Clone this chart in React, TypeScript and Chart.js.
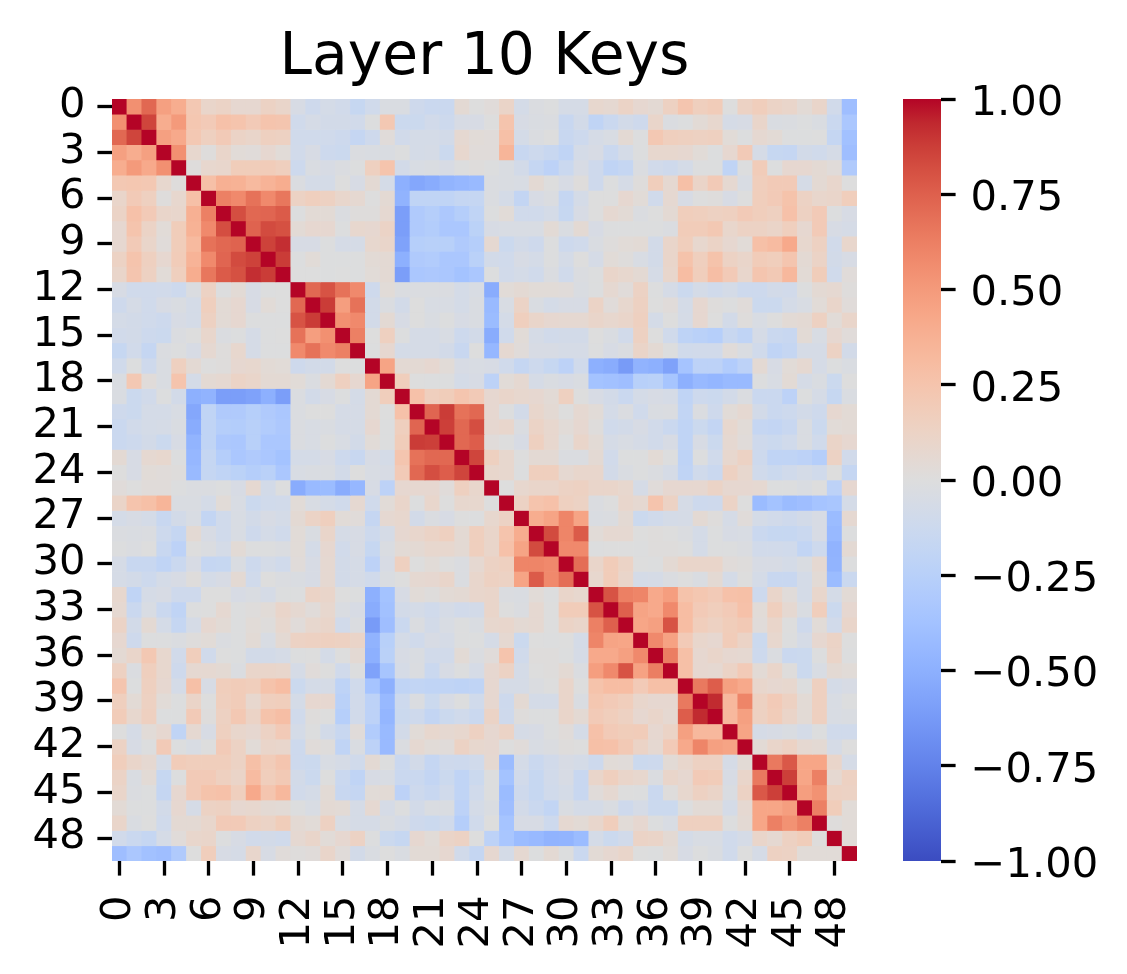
import React, { useEffect, useRef } from "react";
import { Chart, registerables } from "chart.js";

Chart.register(...registerables);

const FONT = "'DejaVu Sans'";
const TITLE = "Layer 10 Keys";
const tickValues = [0, 3, 6, 9, 12, 15, 18, 21, 24, 27, 30, 33, 36, 39, 42, 45, 48];
const colorbarTicks = [-1, -0.75, -0.5, -0.25, 0, 0.25, 0.5, 0.75, 1];
const indices = Array.from({ length: 50 }, (_, i) => i);

// Upper triangle of the correlation matrix, in hundredths; each row starts on the diagonal.
const r0 = [100,55,72,47,40,22,10,12,7,7,13,10,-5,-11,-7,-9,-16,-10,-3,-3,-11,-14,-14,5,0,2,11,-7,-2,-1,-6,-6,8,6,12,7,5,14,24,16,19,0,13,17,12,10,4,10,-9,-40];
const r1 = [100,85,40,50,23,20,27,25,20,25,24,-10,-6,-8,-8,-9,-1,22,-13,-13,-9,-12,-5,-5,0,25,-5,-3,-2,-15,-8,-20,-14,-8,-11,10,-2,-1,4,8,-6,-5,10,-3,-2,-1,-3,-14,-33];
const r2 = [100,47,42,22,15,20,12,10,15,14,-10,-10,-10,-12,-17,-11,2,-9,-7,-7,-8,6,3,2,28,-7,-2,0,-15,-12,-6,-4,5,-1,22,16,15,14,15,3,-1,6,4,-1,-1,0,-17,-38];
const r3 = [100,55,8,1,10,3,2,7,3,-9,-5,-12,-13,-2,-3,-3,-1,-7,-6,-13,8,2,2,35,-15,-12,-15,-20,-7,-5,-14,-7,-1,8,8,7,3,-1,7,20,-6,-16,-17,-8,-10,-6,-40];
const r4 = [100,1,8,9,18,18,19,16,-12,-3,-5,-2,-1,15,25,-8,-4,-3,-5,-1,1,-1,-3,-8,-17,-22,-14,-5,-11,-20,-17,-2,-9,-11,-7,-1,-1,-20,-1,19,-1,7,7,5,2,-30];
const r5 = [100,28,38,37,32,36,40,-2,-7,-7,0,-5,5,-7,-50,-55,-52,-47,-45,-43,-2,-3,-4,5,0,-5,1,-11,-1,-6,1,17,6,28,11,20,6,-4,17,20,20,-6,5,9,0];
const r6 = [100,62,58,68,58,66,13,16,14,9,6,0,5,-48,-20,-20,-20,-17,-17,-2,-7,-18,-5,-2,-17,-7,0,0,7,3,-10,6,-5,0,1,-5,0,17,20,26,13,9,10,17];
const r7 = [100,82,72,73,77,-1,4,4,-2,1,1,6,-60,-30,-27,-32,-27,-20,-1,3,-10,-10,-7,-16,-5,0,6,4,-2,0,5,17,16,14,15,20,17,15,27,14,20,-1,-5];
const r8 = [100,74,83,81,4,7,7,-1,8,7,12,-60,-30,-28,-33,-33,-23,-5,-4,-4,-4,4,-3,5,-5,-1,-1,-1,-1,-2,19,19,22,9,13,13,11,16,7,20,-5,-6];
const r9 = [100,86,92,-5,-5,-1,-6,-6,8,10,-58,-26,-25,-25,-30,-27,6,-13,-8,-11,-1,-12,-10,-3,1,3,4,-8,10,17,8,12,7,3,28,31,42,8,14,-9,9];
const r10 = [100,88,-1,3,-1,-1,-1,4,5,-50,-30,-29,-33,-33,-24,-8,-10,-5,-7,-1,-7,0,-6,3,1,-4,-8,10,26,16,26,13,10,19,17,24,5,12,-8,-5];
const r11 = [100,0,0,-1,0,-1,3,5,-60,-33,-32,-33,-37,-33,-1,-9,-7,-10,-2,-10,-2,-1,10,8,5,-6,9,30,17,29,20,9,24,21,33,4,18,-10,2];
const r12 = [100,72,80,68,58,-11,3,-2,-2,-2,-2,-7,-4,-52,3,5,3,3,2,-3,-1,6,2,13,-1,-6,-13,-7,-10,-7,-12,-12,-8,-9,-1,5,6,1];
const r13 = [100,88,48,68,-8,-2,-8,0,-4,-4,-7,-3,-43,-4,12,-3,-7,-5,-5,12,2,8,14,0,2,-7,7,1,-1,2,-13,-13,-7,-4,3,10,2];
const r14 = [100,55,58,-8,5,-5,0,-3,-1,-5,-3,-42,-7,16,10,7,6,6,10,8,10,15,-7,0,-6,7,0,-8,1,-4,0,4,5,14,3,10];
const r15 = [100,62,0,15,-1,-6,-6,-4,-12,-8,-52,-10,3,-6,-9,-8,-8,0,-3,-9,14,0,-10,-21,-24,-26,-15,-20,-6,-14,-15,4,-4,7,2];
const r16 = [100,-1,7,-7,-6,-6,-8,-15,0,-45,6,2,-5,-5,-6,-6,-1,-5,-2,11,5,-1,-10,-9,-9,2,-3,-10,-20,-17,-6,-6,13,-8];
const r17 = [100,45,5,5,7,3,-5,-4,-5,-10,-17,-12,-16,-22,-10,-50,-52,-62,-48,-50,-58,-36,-22,-22,-29,-22,5,-5,3,6,-6,-1,-3];
const r18 = [100,17,0,-1,-1,-7,-5,-22,3,6,-6,-3,-5,-3,-37,-38,-40,-25,-24,-35,-50,-44,-46,-43,-43,-1,-4,4,-6,-3,-13,0];
const r19 = [100,27,16,18,24,20,7,10,8,7,4,15,0,-5,-8,-14,-7,-5,-6,-20,-12,-13,-8,-2,-14,-14,-22,-1,-6,-16,-3];
const r20 = [100,73,88,68,72,7,-1,-8,9,5,0,6,3,-7,-2,-10,-3,-2,-19,-2,-11,3,6,-8,-14,-12,-8,-11,7,4];
const r21 = [100,87,72,82,7,9,-2,12,8,3,7,1,-10,-8,-5,-9,-14,-20,-13,-18,8,3,-17,-18,-15,-3,-13,3,4];
const r22 = [100,72,76,2,0,-5,15,8,0,10,4,-6,-4,-6,-9,-5,-20,-5,-13,6,2,-11,-13,-10,-3,-10,11,7];
const r23 = [100,85,15,8,0,5,5,-2,-2,5,-9,-1,-1,4,-1,-21,-1,-10,8,13,-12,-20,-20,-22,-27,13,-9];
const r24 = [100,9,8,-1,16,16,6,9,9,-8,-3,-1,-2,-6,-20,-10,-14,14,8,-10,-13,-10,-7,-10,0,-17];
const r25 = [100,0,8,10,10,13,14,10,10,8,-6,2,7,7,7,12,7,7,6,-1,-1,-3,0,-22,7];
const r26 = [100,13,25,27,15,13,-2,0,9,6,25,13,-6,-12,-11,12,0,-42,-37,-42,-40,-36,-34,-7];
const r27 = [100,40,45,60,45,-3,-2,5,-13,-10,-7,-6,5,1,-6,2,-7,-9,-11,-8,-5,-42,6];
const r28 = [100,83,60,77,3,6,6,0,1,0,-2,-7,-1,-5,-4,-14,-16,-16,-14,-5,-44,-1];
const r29 = [100,58,58,-1,0,0,-1,1,1,0,-7,-1,-1,-2,-9,-9,-10,-19,-12,-48,5];
const r30 = [100,70,10,19,12,0,-1,5,10,10,10,2,1,-5,-5,-7,-3,6,-47,-1];
const r31 = [100,8,19,10,-7,-6,-2,0,-3,5,-7,0,-7,-15,-15,-7,4,-42,-14];
const r32 = [100,80,62,60,42,48,26,23,20,27,28,-12,10,2,-7,9,-7,4];
const r33 = [100,75,45,42,58,30,20,17,20,27,3,16,6,-3,17,-13,7];
const r34 = [100,44,47,80,30,17,14,18,21,2,10,0,-11,3,-9,10];
const r35 = [100,58,46,20,9,7,19,12,-13,8,-1,-6,7,12,0];
const r36 = [100,63,28,7,10,7,6,-12,-2,-14,-13,-1,11,-1];
const r37 = [100,28,7,6,12,20,4,10,1,-13,-4,5,3];
const r38 = [100,65,76,47,42,9,7,8,-1,15,-7,-5];
const r39 = [100,93,33,60,14,20,14,4,15,-4,-1];
const r40 = [100,33,47,14,19,11,4,15,-4,-3];
const r41 = [100,45,-6,-5,-3,-7,-1,-10,-10];
const r42 = [100,4,10,13,6,5,-6,0];
const r43 = [100,65,78,44,44,10,-6];
const r44 = [100,87,44,62,6,14];
const r45 = [100,48,54,14,13];
const r46 = [100,62,18,3];
const r47 = [100,1,3];
const r48 = [100,3];
const r49 = [100];

const upper = [r0,r1,r2,r3,r4,r5,r6,r7,r8,r9,r10,r11,r12,r13,r14,r15,r16,r17,r18,r19,r20,r21,r22,r23,r24,r25,r26,r27,r28,r29,r30,r31,r32,r33,r34,r35,r36,r37,r38,r39,r40,r41,r42,r43,r44,r45,r46,r47,r48,r49];

const cellValue = (row: number, col: number) => {
  const a = Math.min(row, col);
  const b = Math.max(row, col);
  return (upper[a][b - a] ?? 0) / 100;
};

const coolwarm = [
  [59,76,192],[68,90,204],[77,104,215],[87,117,225],[98,130,234],[108,142,241],[119,154,247],[130,165,251],
  [141,176,254],[152,185,255],[163,194,255],[174,201,253],[184,208,249],[194,213,244],[204,217,238],[213,219,230],
  [221,221,221],[229,216,209],[236,211,197],[241,204,185],[245,196,173],[247,187,160],[247,177,148],[247,166,135],
  [244,154,123],[241,141,111],[236,127,99],[229,112,88],[222,96,77],[213,80,66],[203,62,56],[192,40,47],[180,4,38],
];

const colorFor = (v: number) => {
  const t = Math.max(0, Math.min(1, (v + 1) / 2)) * (coolwarm.length - 1);
  const i = Math.min(coolwarm.length - 2, Math.floor(t));
  const f = t - i;
  const c = coolwarm[i].map((x, k) => Math.round(x + (coolwarm[i + 1][k] - x) * f));
  return `rgb(${c[0]},${c[1]},${c[2]})`;
};

const PLOT = { left: 112, right: 857, top: 99, bottom: 861 };
const BAR = { left: 903, right: 941 };
const H = 974;
const MAIN_W = 969;
const CB_X = 880;
const CB_W = 247;
const TICK_LEN = 14.6;
const TICK_W = 3.3;
const TICK_SIZE = 41.67;

export default function App() {
  const mainRef = useRef<HTMLCanvasElement>(null);
  const barRef = useRef<HTMLCanvasElement>(null);

  useEffect(() => {
    const tickGrid = {
      display: true,
      drawOnChartArea: false,
      drawTicks: true,
      tickLength: TICK_LEN,
      tickWidth: TICK_W,
      tickColor: "#000",
      offset: false,
    };
    const setTicks = (list: number[]) => (scale: any) => {
      scale.ticks = list.map((value) => ({ value }));
    };

    const main = new Chart(mainRef.current!, {
      type: "bar",
      data: {
        datasets: indices.map((row) => ({
          label: `row ${row}`,
          data: indices.map((col) => ({ x: col, y: [row - 0.5, row + 0.5], v: cellValue(row, col) })),
          backgroundColor: (ctx: any) => colorFor(ctx.raw ? ctx.raw.v : 0),
          borderWidth: 0,
          grouped: false,
          barPercentage: 1,
          categoryPercentage: 1,
        })),
      } as any,
      options: {
        responsive: false,
        animation: false,
        devicePixelRatio: 1,
        layout: { padding: 0 },
        plugins: {
          legend: { display: false },
          tooltip: { enabled: false },
          title: {
            display: true,
            text: TITLE,
            color: "#000",
            font: { family: FONT, size: 58.3, weight: "normal", lineHeight: 1.2 },
            padding: { top: 24, bottom: 5 },
          },
        },
        scales: {
          x: {
            type: "linear",
            min: -0.5,
            max: 49.5,
            offset: false,
            afterBuildTicks: setTicks(tickValues),
            afterFit: (s: any) => { s.height = H - PLOT.bottom; },
            grid: tickGrid,
            border: { display: false },
            ticks: {
              autoSkip: false,
              minRotation: 90,
              maxRotation: 90,
              color: "#000",
              padding: 20,
              font: { family: FONT, size: TICK_SIZE },
            },
          },
          y: {
            type: "linear",
            reverse: true,
            min: -0.5,
            max: 49.5,
            afterBuildTicks: setTicks(tickValues),
            afterFit: (s: any) => { s.width = PLOT.left; },
            grid: tickGrid,
            border: { display: false },
            ticks: {
              autoSkip: false,
              color: "#000",
              padding: 12,
              labelOffset: -0.5,
              font: { family: FONT, size: TICK_SIZE },
            },
          },
          spacer: {
            type: "linear",
            position: "right",
            display: true,
            afterFit: (s: any) => { s.width = MAIN_W - PLOT.right; },
            grid: { display: false },
            border: { display: false },
            ticks: { display: false },
          },
        },
      } as any,
    });

    const bar = new Chart(barRef.current!, {
      type: "bar",
      data: {
        labels: ["scale"],
        datasets: [
          {
            data: [[colorbarTicks[0], colorbarTicks[colorbarTicks.length - 1]]],
            backgroundColor: (ctx: any) => {
              const area = ctx.chart.chartArea;
              if (!area) return "#ddd";
              const g = ctx.chart.ctx.createLinearGradient(0, area.bottom, 0, area.top);
              coolwarm.forEach((c, i) => g.addColorStop(i / (coolwarm.length - 1), `rgb(${c[0]},${c[1]},${c[2]})`));
              return g;
            },
            borderWidth: 0,
            barPercentage: 1,
            categoryPercentage: 1,
          },
        ],
      } as any,
      options: {
        responsive: false,
        animation: false,
        devicePixelRatio: 1,
        layout: { padding: { top: PLOT.top, bottom: H - PLOT.bottom, left: BAR.left - CB_X, right: 0 } },
        plugins: { legend: { display: false }, tooltip: { enabled: false }, title: { display: false } },
        scales: {
          x: { display: false },
          y: {
            position: "right",
            min: -1,
            max: 1,
            afterBuildTicks: setTicks(colorbarTicks),
            afterFit: (s: any) => { s.width = CB_X + CB_W - BAR.right; },
            grid: tickGrid,
            border: { display: false },
            ticks: {
              autoSkip: false,
              color: "#000",
              padding: 15,
              labelOffset: 5,
              font: { family: FONT, size: TICK_SIZE },
              callback: (v: number) => v.toFixed(2).replace("-", "\u2212"),
            },
          },
        },
      } as any,
    });

    return () => {
      main.destroy();
      bar.destroy();
    };
  }, []);

  return (
    <div style={{ position: "absolute", left: 0, top: 0, width: 1127, height: H, background: "#fff", overflow: "hidden" }}>
      <canvas ref={mainRef} width={MAIN_W} height={H} style={{ position: "absolute", left: 0, top: 0 }} />
      <canvas ref={barRef} width={CB_W} height={H} style={{ position: "absolute", left: CB_X, top: 0 }} />
    </div>
  );
}
